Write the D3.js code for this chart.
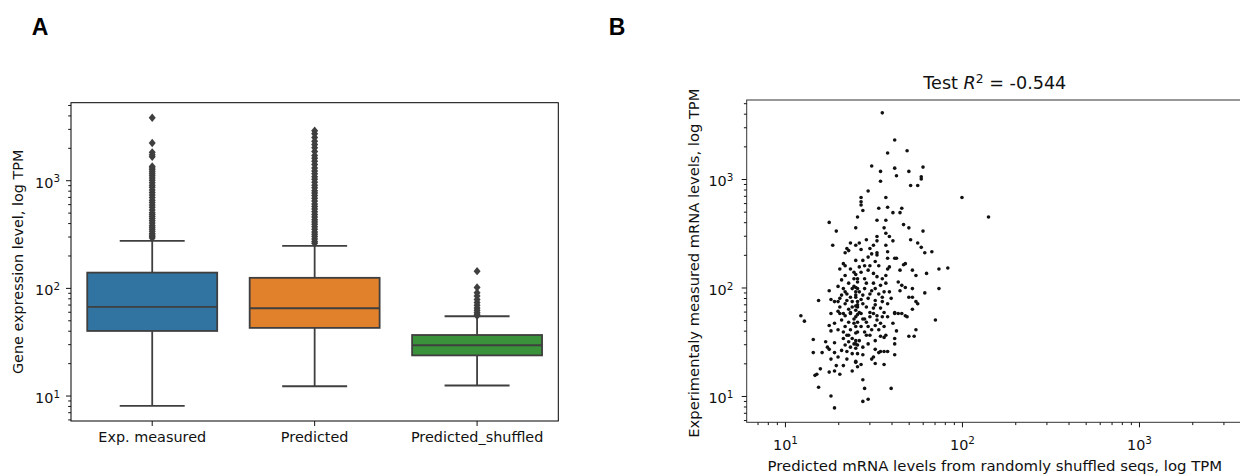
<!DOCTYPE html>
<html>
<head>
<meta charset="utf-8">
<script src="https://cdn.jsdelivr.net/npm/d3@7"></script>
<style>
  body { margin: 0; background: #fff; }
  svg { display: block; font-family: "DejaVu Sans", sans-serif; }
  .tick text { font-family: "DejaVu Sans", sans-serif; font-size: 14.4px; fill: #111; }
  .tick line { stroke: #111; }
</style>
</head>
<body>
<svg id="chart" width="1240" height="476"></svg>
<script>
// Panel A: box plot summaries (TPM)
const categories = ['Exp. measured', 'Predicted', 'Predicted_shuffled'];
const boxColors = ['#3274a1', '#e1812c', '#3a923a'];
const whiskerLow = [8.0, 12.2, 12.4];
const q1 = [39.8, 42.5, 23.6];
const medians = [66.5, 64.7, 29.3];
const q3 = [138.6, 124, 36.5];
const whiskerHigh = [273, 246, 54.5];

const outliersMeasured = [290, 300, 310, 320, 335, 350, 365, 380, 400, 420, 440, 460, 480, 500, 530, 560,
  590, 620, 650, 690, 730, 770, 810, 860, 900, 950, 1000, 1050, 1100, 1150, 1200, 1250, 1300, 1340,
  1650, 1720, 1815, 2220, 3800];
const outliersPredicted = [260, 270, 285, 300, 315, 330, 350, 370, 390, 410, 430, 455, 480, 510, 540, 570,
  600, 640, 680, 720, 760, 800, 850, 900, 960, 1020, 1080, 1150, 1220, 1300, 1400, 1500, 1600, 1700,
  1850, 2000, 2150, 2300, 2500, 2700, 2880];
const outliersShuffled = [55, 57, 59, 62, 65, 69, 73, 78, 84, 90, 101, 143];

// Panel B: log10 TPM, predicted (shuffled seqs) vs measured
const shuffledPredLog = [
  1.55,1.62,1.58,1.69,1.49,1.62,1.54,1.70,1.78,1.63,1.77,1.77,1.54,1.71,1.75,1.47,2.00,2.15,1.43,1.43,
  1.43,1.44,1.57,1.53,1.58,1.66,1.65,1.61,1.41,1.25,1.52,1.57,1.67,1.70,1.78,1.29,1.40,1.56,1.57,1.59,
  1.52,1.46,1.42,1.40,1.27,1.52,1.57,1.61,1.71,1.75,1.77,1.79,1.83,1.35,1.37,1.34,1.36,1.40,1.33,1.34,
  1.31,1.37,1.39,1.40,1.34,1.39,1.41,1.33,1.38,1.25,1.35,1.32,1.40,1.26,1.28,1.30,1.19,1.38,1.41,1.40,
  1.36,1.09,1.26,1.30,1.33,1.37,1.11,1.25,1.28,1.30,1.26,1.33,1.35,1.16,1.23,1.28,1.24,1.25,1.16,1.21,
  1.28,1.26,1.30,1.35,1.29,1.33,1.40,1.20,1.25,1.28,1.31,1.38,1.18,1.17,1.19,1.26,1.28,1.85,1.74,1.70,
  1.73,1.63,1.62,1.62,1.62,1.61,1.58,1.56,1.54,1.51,1.53,1.49,1.50,1.51,1.56,1.44,1.47,1.40,1.43,1.41,
  1.44,1.45,1.60,1.47,1.44,1.58,1.62,1.68,1.69,1.66,1.56,1.57,1.54,1.56,1.51,1.53,1.49,1.47,1.43,1.41,
  1.45,1.48,1.42,1.40,1.41,1.45,1.48,1.52,1.55,1.54,1.50,1.43,1.50,1.43,1.48,1.52,1.52,1.58,1.58,1.62,
  1.63,1.59,1.58,1.67,1.68,1.65,1.72,1.74,1.80,1.87,1.92,1.49,1.47,1.44,1.45,1.48,1.51,1.53,1.42,1.43,
  1.47,1.50,1.52,1.55,1.57,1.41,1.45,1.46,1.50,1.54,1.57,1.64,1.66,1.68,1.72,1.79,1.87,1.65,1.70,1.72,
  1.74,1.75,1.72,1.62,1.64,1.40,1.42,1.45,1.49,1.53,1.56,1.59,1.60,1.43,1.47,1.51,1.55,1.58,1.41,1.46,
  1.50,1.54,1.56,1.42,1.48,1.40,1.31,1.34,1.37,1.40,1.41,1.32,1.36,1.39,1.40,1.34,1.37,1.40,1.33,1.36,
  1.38,1.40,1.34,1.37,1.40,1.32,1.35,1.38,1.41,1.41,1.32,1.36,1.39,1.41,1.30,1.34,1.37,1.40,1.31,1.34,
  1.38,1.41,1.44,1.46,1.52,1.39,1.36,1.44,1.51,1.48,1.44,1.51,1.55,1.40,1.35,1.46,1.51,1.39,1.44,1.31
];
const measuredLog = [
  3.61,3.36,3.24,3.26,3.12,3.10,3.07,3.07,3.11,3.03,3.02,3.00,2.98,2.94,2.94,2.89,2.83,2.65,2.83,2.79,
  2.76,2.71,2.83,2.73,2.74,2.73,2.69,2.69,2.65,2.60,2.62,2.62,2.58,2.55,2.52,2.52,2.55,2.55,2.50,2.47,
  2.47,2.44,2.41,2.39,2.39,2.43,2.39,2.43,2.44,2.41,2.37,2.32,2.33,2.36,2.41,2.32,2.34,2.25,2.22,2.20,
  2.17,2.17,2.14,2.12,2.11,2.08,2.05,1.99,1.99,1.97,1.94,1.93,1.93,1.89,1.87,1.87,1.88,1.87,1.87,1.83,
  1.80,1.74,1.76,1.78,1.76,1.77,1.69,1.65,1.67,1.61,1.60,1.59,1.56,1.52,1.50,1.49,1.45,1.43,1.40,1.40,
  1.40,1.34,1.36,1.34,1.28,1.28,1.31,1.25,1.22,1.23,1.20,1.23,1.20,1.19,1.08,1.00,0.89,1.70,1.61,1.55,
  1.55,1.60,1.53,1.48,1.38,1.67,1.41,1.41,1.41,1.43,1.40,1.34,1.36,1.30,1.29,1.38,1.48,1.32,1.29,1.27,
  1.15,1.07,1.07,0.97,0.95,1.73,1.76,1.74,1.73,1.76,1.64,1.56,1.55,1.54,1.65,1.61,1.61,1.64,1.64,1.59,
  1.59,1.56,1.51,1.48,1.68,1.71,1.73,1.70,1.73,1.67,1.76,1.76,2.39,2.35,2.36,2.32,2.30,2.33,2.27,2.27,
  2.27,2.19,2.17,2.21,2.22,2.16,2.16,2.11,2.13,2.17,2.18,2.31,2.28,2.25,2.20,2.20,2.24,2.20,2.19,2.14,
  2.16,2.13,2.10,2.08,2.11,2.08,2.08,2.04,2.04,2.02,2.04,2.05,2.02,2.00,1.99,1.95,1.99,1.97,1.91,1.91,
  1.87,1.85,1.80,1.77,1.76,2.00,1.96,1.99,1.97,1.94,1.96,1.96,1.90,1.89,1.90,1.88,1.87,1.85,1.84,1.82,
  1.81,1.81,1.77,1.77,1.77,1.79,1.76,1.74,1.76,1.73,1.75,1.70,1.68,1.67,1.64,1.64,1.61,1.58,1.53,1.50,
  1.53,1.51,1.47,1.45,1.44,1.42,1.41,1.39,1.47,1.39,2.07,2.04,2.01,1.99,2.01,1.96,1.91,1.91,1.82,1.85,
  1.82,1.82,1.71,1.68,1.74,1.71,1.56,1.85,1.84,1.94,1.93,1.99,1.91,1.96,1.88,1.56,1.51,1.48,1.45,1.90
];
const titleR2 = '-0.544';
const majorTicks = [10, 100, 1000];

const ink = '#3f3f3f';
const fontSize = 14.4;
const svg = d3.select('#chart');
svg.append('rect').attr('width', 1240).attr('height', 476).attr('fill', '#fff');

// minor log ticks (2..9 per decade) inside a domain
function minorTicks(lo, hi) {
  const out = [];
  for (let e = Math.floor(Math.log10(lo)); e <= Math.ceil(Math.log10(hi)); e++) {
    for (let m = 2; m <= 9; m++) {
      const v = m * Math.pow(10, e);
      if (v >= lo && v <= hi) out.push(v);
    }
  }
  return out;
}

// "10" with raised exponent, like matplotlib's log formatter
function powerLabels(g) {
  g.selectAll('.tick text').each(function(d) {
    const t = d3.select(this);
    t.text('10');
    t.append('tspan')
      .attr('dy', '-0.5em')
      .attr('font-size', '0.72em')
      .text(Math.round(Math.log10(d)));
  });
}

function drawLogYAxis(g, scale, x, pad) {
  const major = g.append('g').attr('transform', `translate(${x},0)`)
    .call(d3.axisLeft(scale).tickValues(majorTicks).tickSize(5).tickPadding(pad));
  major.select('.domain').remove();
  major.selectAll('.tick text').attr('dy', '0.47em');
  powerLabels(major);
  const minor = g.append('g').attr('transform', `translate(${x},0)`)
    .call(d3.axisLeft(scale).tickValues(minorTicks(...scale.domain())).tickSize(2.8).tickFormat(''));
  minor.select('.domain').remove();
}

// ---------- Panel A ----------
function drawBoxPanel() {
  const box = { left: 71, top: 102.7, right: 558.3, bottom: 421 };
  const g = svg.append('g');

  const x = d3.scaleBand().domain(categories)
    .range([box.left, box.right]).paddingInner(0.2).paddingOuter(0.1);
  const y = d3.scaleLog().domain([5.8, 5250]).range([box.bottom, box.top]);

  const outliers = [outliersMeasured, outliersPredicted, outliersShuffled];
  const diamond = 'M0,-4.2L3.5,0L0,4.2L-3.5,0Z';

  categories.forEach((c, i) => {
    const bw = x.bandwidth();
    const x0 = x(c);
    const cx = x0 + bw / 2;
    const cg = g.append('g');

    cg.append('line').attr('x1', cx).attr('x2', cx)
      .attr('y1', y(whiskerLow[i])).attr('y2', y(q1[i]));
    cg.append('line').attr('x1', cx).attr('x2', cx)
      .attr('y1', y(q3[i])).attr('y2', y(whiskerHigh[i]));
    cg.append('line').attr('x1', cx - bw / 4).attr('x2', cx + bw / 4)
      .attr('y1', y(whiskerLow[i])).attr('y2', y(whiskerLow[i]));
    cg.append('line').attr('x1', cx - bw / 4).attr('x2', cx + bw / 4)
      .attr('y1', y(whiskerHigh[i])).attr('y2', y(whiskerHigh[i]));
    cg.selectAll('line').attr('stroke', ink).attr('stroke-width', 1.8);

    cg.append('rect')
      .attr('x', x0).attr('y', y(q3[i]))
      .attr('width', bw).attr('height', y(q1[i]) - y(q3[i]))
      .attr('fill', boxColors[i]).attr('stroke', ink).attr('stroke-width', 1.8);
    cg.append('line').attr('x1', x0).attr('x2', x0 + bw)
      .attr('y1', y(medians[i])).attr('y2', y(medians[i]))
      .attr('stroke', ink).attr('stroke-width', 1.8);

    cg.selectAll('path.flier')
      .data(outliers[i])
      .enter()
      .append('path')
      .attr('class', 'flier')
      .attr('d', diamond)
      .attr('transform', d => `translate(${cx},${y(d)})`)
      .attr('fill', ink);
  });

  g.append('rect')
    .attr('x', box.left).attr('y', box.top)
    .attr('width', box.right - box.left).attr('height', box.bottom - box.top)
    .attr('fill', 'none').attr('stroke', '#000').attr('stroke-width', 1);

  drawLogYAxis(g, y, box.left, 6);

  const xa = g.append('g').attr('transform', `translate(0,${box.bottom})`)
    .call(d3.axisBottom(x).tickSize(5).tickPadding(6));
  xa.select('.domain').remove();

  g.append('text')
    .attr('transform', `translate(18,${(box.top + box.bottom) / 2}) rotate(-90)`)
    .attr('text-anchor', 'middle').attr('dy', '0.35em')
    .attr('font-size', fontSize).attr('fill', '#111')
    .text('Gene expression level, log TPM');
}

// ---------- Panel B ----------
function drawScatterPanel() {
  const box = { left: 746.7, top: 100, right: 1243, bottom: 422.3 };
  const g = svg.append('g');

  const x = d3.scaleLog().domain([6.08, 3870]).range([box.left, box.right]);
  const y = d3.scaleLog().domain([5.72, 5350]).range([box.bottom, box.top]);

  const n = Math.min(shuffledPredLog.length, measuredLog.length);
  const pts = d3.range(n).map(i => ({ p: Math.pow(10, shuffledPredLog[i]), m: Math.pow(10, measuredLog[i]) }));

  g.append('g').selectAll('circle')
    .data(pts)
    .enter()
    .append('circle')
    .attr('cx', d => x(d.p))
    .attr('cy', d => y(d.m))
    .attr('r', 1.8)
    .attr('fill', '#111');

  g.append('rect')
    .attr('x', box.left).attr('y', box.top)
    .attr('width', box.right - box.left).attr('height', box.bottom - box.top)
    .attr('fill', 'none').attr('stroke', '#333').attr('stroke-width', 1);

  drawLogYAxis(g, y, box.left, 8.4);

  const xa = g.append('g').attr('transform', `translate(0,${box.bottom})`)
    .call(d3.axisBottom(x).tickValues(majorTicks).tickSize(5).tickPadding(12));
  xa.select('.domain').remove();
  powerLabels(xa);
  const xm = g.append('g').attr('transform', `translate(0,${box.bottom})`)
    .call(d3.axisBottom(x).tickValues(minorTicks(...x.domain())).tickSize(2.8).tickFormat(''));
  xm.select('.domain').remove();

  const title = g.append('text')
    .attr('x', (box.left + box.right) / 2).attr('y', 89)
    .attr('text-anchor', 'middle').attr('font-size', 17.6).attr('fill', '#111');
  title.append('tspan').text('Test ');
  title.append('tspan').attr('font-style', 'italic').text('R');
  title.append('tspan').attr('dy', '-0.5em').attr('font-size', '0.7em').text('2');
  title.append('tspan').attr('dy', '0.35em').text(' = ' + titleR2);

  g.append('text')
    .attr('transform', `translate(694,${(box.top + box.bottom) / 2 + 2}) rotate(-90)`)
    .attr('text-anchor', 'middle').attr('dy', '0.35em')
    .attr('font-size', 14.7).attr('fill', '#111')
    .text('Experimentaly measured mRNA levels, log TPM');

  g.append('text')
    .attr('x', (box.left + box.right) / 2).attr('y', 471)
    .attr('text-anchor', 'middle')
    .attr('font-size', 14.9).attr('fill', '#111')
    .text('Predicted mRNA levels from randomly shuffled seqs, log TPM');
}

drawBoxPanel();
drawScatterPanel();

// panel letters
svg.selectAll('text.panel-letter')
  .data([{ k: 'A', x: 40 }, { k: 'B', x: 617 }])
  .enter()
  .append('text')
  .attr('class', 'panel-letter')
  .attr('x', d => d.x).attr('y', 35)
  .attr('text-anchor', 'middle')
  .attr('font-family', '"Liberation Sans", Arial, sans-serif')
  .attr('font-weight', 'bold').attr('font-size', 23)
  .text(d => d.k);
</script>
</body>
</html>
